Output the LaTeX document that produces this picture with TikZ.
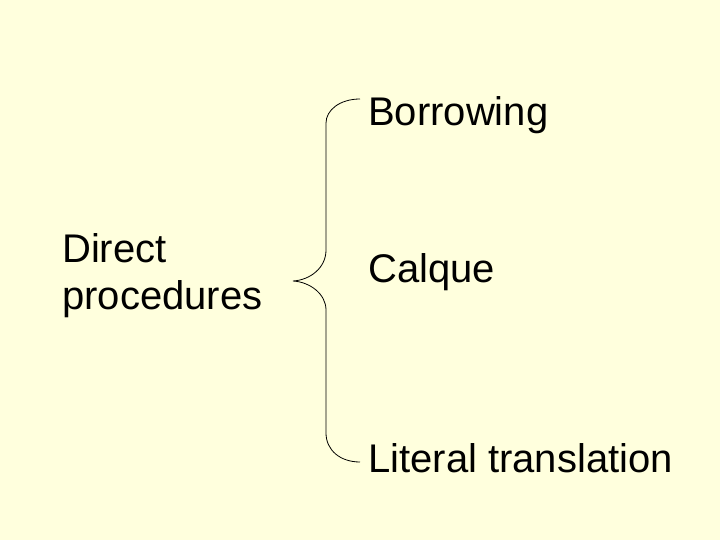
\documentclass[tikz,border=0pt]{standalone}
\usepackage{fontspec}
\setmainfont{Liberation Sans}
\definecolor{paper}{RGB}{255,255,221}
\begin{document}
\begin{tikzpicture}[x=1pt,y=-1pt]
      \fill[paper] (0,0) rectangle (720,540);
      \useasboundingbox (0,0) rectangle (720,540);
      \begin{scope}[font=\fontsize{40}{47}\selectfont]
        \node[anchor=base west,inner sep=0,align=left] (direct) at (62,309) {Direct\\procedures};
        \foreach[count=\i] \v/\y in {Borrowing/126,Calque/282,Literal translation/472} {
          \node[anchor=base west,inner sep=0] (item\i) at (368,\y) {\v};
        }
      \end{scope}
      \draw[line width=0.8pt] (360,99) .. controls (340,99) and (326,110) .. (326,123)
        -- (326,250) .. controls (326,268) and (310,280) .. (293,281)
        .. controls (310,282) and (326,294) .. (326,310)
        -- (326,433) .. controls (326,450) and (340,462) .. (360,462);
    \end{tikzpicture}
\end{document}
